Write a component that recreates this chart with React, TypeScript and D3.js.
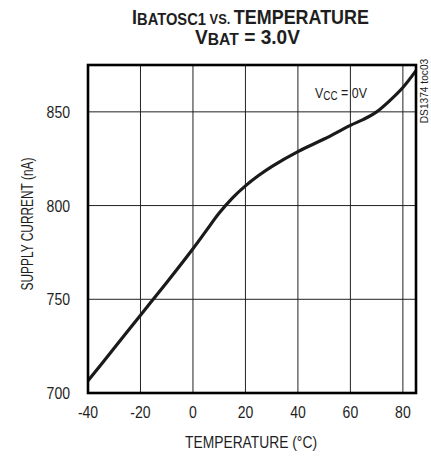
import React, { useEffect, useRef } from 'react';
import * as d3 from 'd3';

// temperature (°C) vs supply current (nA)
const temps = [-40, -30, -20, -10, 0, 5, 10, 15, 20, 25, 30, 40, 50, 60, 65, 70, 75, 80, 85];
const current = [706.5, 724, 741.5, 759, 777, 786.5, 796, 804, 810.5, 816, 820.8, 828.8, 835.5, 842.8, 846, 850, 856, 863, 872];

const xTicks = [-40, -20, 0, 20, 40, 60, 80];
const yTicks = [700, 750, 800, 850];

const font = '"Liberation Sans", Arial, sans-serif';
const SQUEEZE = 0.85;

type Sel = d3.Selection<SVGTextElement, unknown, null, undefined>;

const App = () => {
  const ref = useRef<SVGSVGElement | null>(null);

  useEffect(() => {
    document.body.style.margin = '0';
    const svg = d3.select(ref.current);
    svg.selectAll('*').remove();

    const x = d3.scaleLinear().domain([-40, 85]).range([88, 416]);
    const y = d3.scaleLinear().domain([700, 875]).range([393, 65]);

    // text squeezed horizontally to look like the narrow datasheet font;
    // if width given, squeeze to that width instead
    const label = (cx: number, cy: number, size: number, anchor: string, rot = 0, width?: number, bold = false): Sel => {
      const t = svg.append('text')
        .attr('x', 0).attr('y', 0)
        .attr('text-anchor', anchor)
        .style('font-family', font)
        .style('font-size', `${size}px`)
        .style('font-weight', bold ? 'bold' : 'normal')
        .style('fill', '#1e1e1e') as unknown as Sel;
      (t as any).fit = () => {
        let s = SQUEEZE;
        if (width) {
          const w = (t.node() as SVGTextElement).getBBox().width;
          if (w > 0) s = width / w;
        }
        t.attr('transform', `translate(${cx},${cy}) rotate(${rot}) scale(${s},1)`);
      };
      return t;
    };

    // grid
    const grid = svg.append('g').attr('stroke', '#222').attr('stroke-width', 1);
    grid.selectAll('line.v')
      .data(xTicks.slice(1))
      .enter()
      .append('line')
      .attr('x1', d => x(d)).attr('x2', d => x(d))
      .attr('y1', y(875)).attr('y2', y(700));
    grid.selectAll('line.h')
      .data(yTicks.slice(1))
      .enter()
      .append('line')
      .attr('x1', x(-40)).attr('x2', x(85))
      .attr('y1', d => y(d)).attr('y2', d => y(d));

    // curve
    const line = d3.line<number>()
      .x((_, i) => x(temps[i]))
      .y(d => y(d))
      .curve(d3.curveCatmullRom.alpha(0.5));
    svg.append('path')
      .attr('d', line(current) as string)
      .attr('fill', 'none')
      .attr('stroke', '#1a1a1a')
      .attr('stroke-width', 3.2);

    // frame
    svg.append('rect')
      .attr('x', x(-40)).attr('y', y(875))
      .attr('width', x(85) - x(-40)).attr('height', y(700) - y(875))
      .attr('fill', 'none')
      .attr('stroke', '#000')
      .attr('stroke-width', 2.6);

    const fits: Sel[] = [];

    // tick labels
    xTicks.forEach(d => {
      const t = label(x(d), 418, 16.5, 'middle');
      t.text(String(d));
      fits.push(t);
    });
    yTicks.forEach(d => {
      const t = label(70, y(d) + 6, 16.5, 'end');
      t.text(String(d));
      fits.push(t);
    });

    // axis titles
    const xt = label(251, 448, 16.5, 'middle', 0, 132);
    xt.text('TEMPERATURE (°C)');
    fits.push(xt);

    const yt = label(33, 224, 16.5, 'middle', -90, 133);
    yt.text('SUPPLY CURRENT (nA)');
    fits.push(yt);

    // titles
    const t1 = label(250.5, 23.5, 19.5, 'middle', 0, 237, true);
    t1.append('tspan').text('I');
    t1.append('tspan').attr('dy', 1).style('font-size', '16px').text('BATOSC1');
    t1.append('tspan').attr('dy', -1).style('font-size', '14px').text(' VS. ');
    t1.append('tspan').text('TEMPERATURE');
    fits.push(t1);

    const t2 = label(247.5, 44, 19.5, 'middle', 0, 105, true);
    t2.append('tspan').text('V');
    t2.append('tspan').attr('dy', 1).style('font-size', '16px').text('BAT');
    t2.append('tspan').attr('dy', -1).text(' = 3.0V');
    fits.push(t2);

    // curve label
    const lab = label(315, 98, 15, 'start', 0, 52);
    lab.append('tspan').text('V');
    lab.append('tspan').attr('dy', 2).style('font-size', '12px').text('CC');
    lab.append('tspan').attr('dy', -2).text(' = 0V');
    fits.push(lab);

    const code = label(428, 91, 10, 'middle', -90, 65);
    code.text('DS1374 toc03');
    fits.push(code);

    fits.forEach(t => (t as any).fit());
  }, []);

  return <svg ref={ref} width={431} height={458} style={{ display: 'block', background: '#fff' }} />;
};

export default App;
